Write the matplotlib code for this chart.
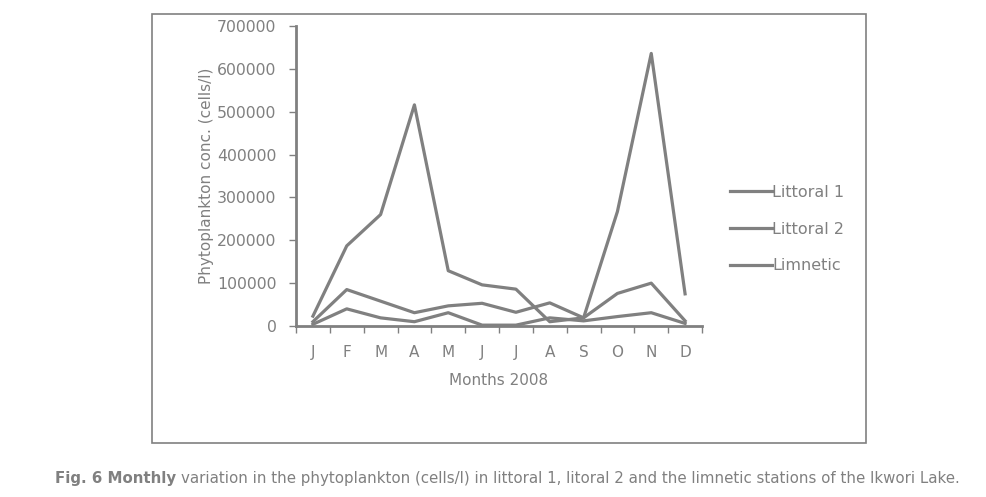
import numpy as np
import matplotlib
matplotlib.use("Agg")
import matplotlib.pyplot as plt
from matplotlib.patches import Rectangle

months = ["J", "F", "M", "A", "M", "J", "J", "A", "S", "O", "N", "D"]
littoral_1 = [10000, 85000, 58000, 31000, 47000, 53000, 32000, 54000, 19000, 76000, 100000, 12000]
littoral_2 = [4000, 40000, 19000, 10000, 31000, 2000, 2000, 19000, 12000, 22000, 31000, 6000]
limnetic = [23000, 187000, 260000, 516000, 129000, 96000, 86000, 10000, 19000, 267000, 636000, 75000]
yticks = [0, 100000, 200000, 300000, 400000, 500000, 600000, 700000]

GRAY = "#808080"
plt.rcParams["font.family"] = "DejaVu Sans"

fig = plt.figure(figsize=(9.87, 4.97), dpi=100)
ax = fig.add_axes([296 / 987, 1 - 326 / 497, 406 / 987, 300 / 497])

x = np.arange(len(months))
for vals, lab in [(littoral_1, "Littoral 1"), (littoral_2, "Littoral 2"), (limnetic, "Limnetic")]:
    ax.plot(x, vals, color=GRAY, lw=2.3, label=lab)

ax.set_xlim(-0.5, 11.5)
ax.set_ylim(0, 700000)
ax.set_yticks(yticks)
ax.set_yticklabels([str(v) for v in yticks])
ax.set_xticks(np.arange(-0.5, 12, 1))
ax.set_xticklabels([])
ax.set_xticks(x, minor=True)
ax.set_xticklabels(months, minor=True)
ax.tick_params(axis="x", which="major", length=5, width=1, color=GRAY)
ax.tick_params(axis="x", which="minor", length=0, pad=14, labelsize=11, labelcolor=GRAY)
ax.tick_params(axis="y", length=5, width=1, color=GRAY, labelsize=11.3, labelcolor=GRAY, pad=9)

for s in ["top", "right"]:
    ax.spines[s].set_visible(False)
for s in ["left", "bottom"]:
    ax.spines[s].set_color(GRAY)
    ax.spines[s].set_linewidth(2)

ax.set_ylabel("Phytoplankton conc. (cells/l)", color=GRAY, fontsize=11, labelpad=2)
ax.set_xlabel("Months 2008", color=GRAY, fontsize=11, labelpad=9)

leg = ax.legend(loc="center left", bbox_to_anchor=(1.069, 0.323), frameon=False,
                fontsize=11.5, handlelength=2.65, handletextpad=0.0, labelspacing=1.35,
                borderpad=0, borderaxespad=0)
for t in leg.get_texts():
    t.set_color(GRAY)

fig.patches.append(Rectangle((152 / 987, 1 - 443 / 497), 714 / 987, 429 / 497,
                             transform=fig.transFigure, fill=False, ec=GRAY, lw=1.2))

t1 = fig.text(55 / 987, 1 - 478 / 497, "Fig. 6 Monthly ", fontsize=10.8, color=GRAY,
              fontweight="bold", va="center", ha="left")
ax.annotate("variation in the phytoplankton (cells/l) in littoral 1, litoral 2 and the limnetic stations of the Ikwori Lake.",
            xy=(1, 0.5), xycoords=t1, va="center", ha="left", fontsize=10.8, color=GRAY,
            annotation_clip=False)

fig.savefig("out.png", dpi=100)
